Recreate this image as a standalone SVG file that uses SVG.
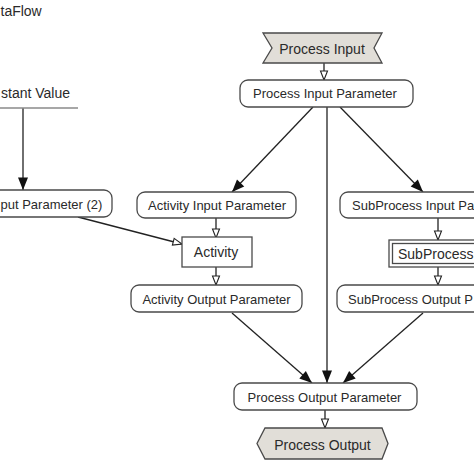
<svg xmlns="http://www.w3.org/2000/svg" width="474" height="474" viewBox="0 0 474 474">
<style>
text{font-family:"Liberation Sans",Arial,sans-serif;fill:#2a2a2a}
.p{font-size:13px;text-anchor:middle}
.ps{font-size:13px}
.b{font-size:14px;text-anchor:middle}
.bs{font-size:14px}
.box{fill:#fff;stroke:#4a4a4a;stroke-width:1.3}
.ev{fill:#e1ded8;stroke:#4a4a4a;stroke-width:1.3}
.c{fill:none;stroke:#222;stroke-width:1.3}
</style>
<defs>
<marker id="fa" markerUnits="userSpaceOnUse" markerWidth="13" markerHeight="10" refX="12.5" refY="5" orient="auto" overflow="visible">
<path d="M0,0 L12.5,5 L0,10 z" fill="#111"/>
</marker>
<marker id="ha" markerUnits="userSpaceOnUse" markerWidth="10" markerHeight="8" refX="9" refY="3.5" orient="auto" overflow="visible">
<path d="M0,0 L9,3.5 L0,7 z" fill="#fff" stroke="#222" stroke-width="1.1"/>
</marker>
</defs>
<rect width="474" height="474" fill="#fff"/>
<text class="bs" x="0.5" y="16">taFlow</text>

<g id="connectors">
<path class="c" d="M23,108 L23,190" marker-end="url(#fa)"/>
<path class="c" d="M324,63 L324,80" marker-end="url(#ha)"/>
<path class="c" d="M313,107 L232,192" marker-end="url(#fa)"/>
<path class="c" d="M340,107 L423,192" marker-end="url(#fa)"/>
<path class="c" d="M327,107 L327,383" marker-end="url(#fa)"/>
<path class="c" d="M78,217 L182,244" marker-end="url(#ha)"/>
<path class="c" d="M216,218 L216,238" marker-end="url(#ha)"/>
<path class="c" d="M216,267 L216,285" marker-end="url(#ha)"/>
<path class="c" d="M438,218 L438,240" marker-end="url(#ha)"/>
<path class="c" d="M438,267 L438,285" marker-end="url(#ha)"/>
<path class="c" d="M232,313 L312,383" marker-end="url(#fa)"/>
<path class="c" d="M423,313 L343,383" marker-end="url(#fa)"/>
<path class="c" d="M325,410 L325,428" marker-end="url(#ha)"/>
</g>

<g id="constant-value">
<line x1="-32" y1="108" x2="78" y2="108" stroke="#8a8a8a" stroke-width="1.3"/>
<text class="bs" x="1" y="98">stant Value</text>
</g>

<g id="process-input">
<polygon class="ev" points="263,33 382,33 374,48 382,63 263,63 272,48"/>
<text class="b" x="322" y="53.5">Process Input</text>
</g>

<g id="process-input-parameter">
<rect class="box" x="240" y="80" width="173" height="27" rx="8"/>
<text class="p" x="325" y="98">Process Input Parameter</text>
</g>

<g id="activity-input-parameter-2">
<rect class="box" x="-67" y="190" width="179" height="27" rx="8"/>
<text class="ps" x="0.5" y="208.5">put Parameter (2)</text>
</g>

<g id="activity-input-parameter">
<rect class="box" x="137" y="192" width="159" height="26" rx="8"/>
<text class="p" x="217" y="209.5">Activity Input Parameter</text>
</g>

<g id="subprocess-input-parameter">
<rect class="box" x="340" y="192" width="191" height="26" rx="8"/>
<text class="ps" x="352" y="209.5">SubProcess Input Pa</text>
</g>

<g id="activity">
<rect class="box" x="182" y="237" width="70" height="30"/>
<text class="b" x="216" y="257">Activity</text>
</g>

<g id="subprocess">
<rect class="box" x="389" y="240" width="98" height="27"/>
<rect class="box" x="392.5" y="243.5" width="91" height="20"/>
<text class="bs" x="398" y="258.5">SubProcess</text>
</g>

<g id="activity-output-parameter">
<rect class="box" x="131" y="285" width="171" height="27" rx="8"/>
<text class="p" x="216.5" y="303.5">Activity Output Parameter</text>
</g>

<g id="subprocess-output-parameter">
<rect class="box" x="337" y="285" width="199" height="27" rx="8"/>
<text class="ps" x="348" y="303.5">SubProcess Output P</text>
</g>

<g id="process-output-parameter">
<rect class="box" x="234" y="383" width="183" height="27" rx="8"/>
<text class="p" x="324.5" y="401.5">Process Output Parameter</text>
</g>

<g id="process-output">
<polygon class="ev" points="265,428 382,428 388,443.5 382,459 265,459 257,443.5"/>
<text class="b" x="322.5" y="449.5">Process Output</text>
</g>
</svg>
